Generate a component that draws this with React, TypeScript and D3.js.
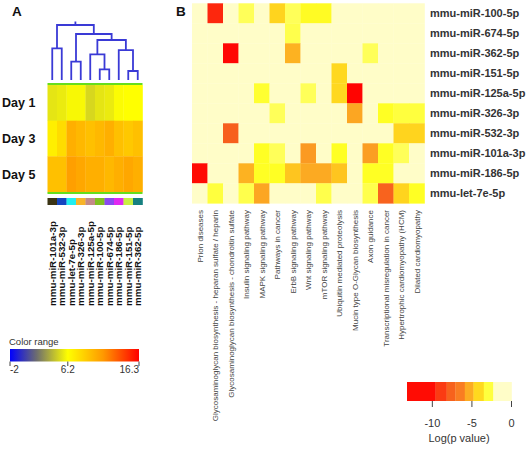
import React from "react";
import * as d3 from "d3";

// ---------- Panel A data ----------
const daysA = ["Day 1", "Day 3", "Day 5"];
const mirnasA = [
  "mmu-miR-101a-3p", "mmu-miR-532-3p", "mmu-let-7e-5p", "mmu-miR-326-3p", "mmu-miR-125a-5p",
  "mmu-miR-100-5p", "mmu-miR-674-5p", "mmu-miR-186-5p", "mmu-miR-151-5p", "mmu-miR-362-5p",
];
const day1Values = [5.4, 5.6, 6.0, 6.0, 5.0, 5.4, 5.6, 6.1, 6.2, 6.2];
const day3Values = [7.0, 7.9, 10.1, 9.7, 9.3, 9.7, 10.1, 9.3, 8.9, 9.3];
const day5Values = [9.3, 9.3, 10.9, 10.5, 10.1, 10.1, 9.7, 10.1, 10.5, 10.1];
const groupColorsA = ["#3b3414", "#1545c0", "#22eef0", "#f8b428", "#c48a88", "#80c020", "#8a48f0", "#e028f0", "#c8f040", "#168080"];
const colorRangeTicks = [-2, 6.2, 16.3];
// dendrogram merges: [left node, right node, height]; leaves 0..9, merged nodes 10..
const dendroMerges: [number, number, number][] = [
  [0, 1, 0.576],
  [2, 3, 0.333],
  [5, 6, 0.195],
  [4, 12, 0.467],
  [8, 9, 0.164],
  [7, 14, 0.545],
  [13, 15, 0.727],
  [11, 16, 0.836],
  [10, 17, 1.0],
];

// ---------- Panel B data ----------
const pathwaysB = [
  "Prion diseases",
  "Glycosaminoglycan biosynthesis - heparan sulfate / heparin",
  "Glycosaminoglycan biosynthesis - chondroitin sulfate",
  "Insulin signaling pathway",
  "MAPK signaling pathway",
  "Pathways in cancer",
  "ErbB signaling pathway",
  "Wnt signaling pathway",
  "mTOR signaling pathway",
  "Ubiquitin mediated proteolysis",
  "Mucin type O-Glycan biosynthesis",
  "Axon guidance",
  "Transcriptional misregulation in cancer",
  "Hypertrophic cardiomyopathy (HCM)",
  "Dilated cardiomyopathy",
];
const mirnasB = [
  "mmu-miR-100-5p", "mmu-miR-674-5p", "mmu-miR-362-5p", "mmu-miR-151-5p", "mmu-miR-125a-5p",
  "mmu-miR-326-3p", "mmu-miR-532-3p", "mmu-miR-101a-3p", "mmu-miR-186-5p", "mmu-let-7e-5p",
];
const logPValues: number[][] = [
  [0, -9.5, 0, -2.7, 0, -4.3, -2.7, -3.2, -3.2, 0, 0, 0, 0, 0, 0],
  [0, 0, 0, 0, 0, 0, -2.8, 0, 0, 0, 0, 0, 0, 0, 0],
  [0, 0, -12, 0, 0, 0, -5.2, 0, 0, 0, 0, -2.7, 0, 0, 0],
  [0, 0, 0, 0, 0, 0, 0, 0, 0, -4.2, 0, 0, 0, 0, 0],
  [0, 0, 0, 0, -3.0, 0, 0, -2.7, 0, -4.2, -12.5, 0, 0, 0, 0],
  [0, 0, 0, 0, 0, -2.7, 0, 0, 0, 0, -5.5, 0, -3.1, -2.9, -2.9],
  [0, 0, -7.8, 0, 0, 0, 0, 0, 0, 0, 0, 0, 0, -4.3, -4.3],
  [0, 0, 0, 0, -3.1, -2.7, 0, -5.8, 0, -3.1, 0, -5.7, -3.1, -2.7, 0],
  [-11.5, 0, 0, -5.2, -3.1, -3.1, -4.7, -5.4, -5.4, -4.7, 0, -3.1, -3.1, 0, 0],
  [0, -2.9, 0, -2.8, -5.5, 0, 0, 0, -2.8, 0, 0, -2.8, -7.6, -4.3, -3.1],
];
const legendBTicks = [-10, -5, 0];
const legendBBins = [-13.2, -9.6, -8.2, -7.1, -5.9, -4.8, -3.5, -2.3, 0];

const FONT = "'Liberation Sans', Arial, Helvetica, sans-serif";

export default function App() {
  // ----- scales A -----
  const colorA = d3
    .scaleLinear<string>()
    .domain([-2, 1.8, 6.2, 11.2, 16.3])
    .range(["#0000ff", "#6e6e6e", "#ffff00", "#ff9900", "#ff0000"])
    .clamp(true);
  const xA = d3.scaleBand<string>().domain(mirnasA).range([47.5, 142.5]);
  const yA = d3.scaleBand<string>().domain(daysA).range([85, 192]);
  const valuesA = [day1Values, day3Values, day5Values];
  const dendY = d3.scaleLinear().domain([0, 1]).range([80, 25]);

  // dendrogram node positions
  const nodeX: number[] = mirnasA.map((m) => (xA(m) as number) + xA.bandwidth() / 2);
  const nodeH: number[] = mirnasA.map(() => 0);
  const dendPaths: string[] = [];
  dendroMerges.forEach(([l, r, h]) => {
    const xl = nodeX[l], xr = nodeX[r];
    const p = d3.path();
    p.moveTo(xl, dendY(nodeH[l]));
    p.lineTo(xl, dendY(h));
    p.lineTo(xr, dendY(h));
    p.lineTo(xr, dendY(nodeH[r]));
    dendPaths.push(p.toString());
    nodeX.push((xl + xr) / 2);
    nodeH.push(h);
  });
  const rootX = nodeX[nodeX.length - 1];
  const rootY = dendY(nodeH[nodeH.length - 1]);

  const legA = d3.scaleLinear().domain([-2, 16.3]).range([10, 139]);
  const gradStops = colorA.domain().map((v) => ({
    off: (legA(v) - 10) / (139 - 10),
    c: colorA(v),
  }));

  // ----- scales B -----
  const colorB = d3
    .scaleLinear<string>()
    .domain([-13, -10, -8, -6.5, -5.5, -4.3, -3.1, -2.6, -2.0, 0])
    .range(["#ff0000", "#ff1608", "#f75a1c", "#f97d22", "#fca622", "#ffd41e", "#ffff24", "#ffff66", "#fffdc8", "#fffdc8"])
    .clamp(true);
  const xB = d3.scaleBand<string>().domain(pathwaysB).range([192, 424.5]);
  const yB = d3.scaleBand<string>().domain(mirnasB).range([3.3, 203.3]);
  const legB = d3.scaleLinear().domain([-13.2, 0]).range([407, 511.5]);

  return (
    <svg
      width={530}
      height={449}
      style={{ position: "absolute", left: 0, top: 0, display: "block", background: "#fff" }}
      fontFamily={FONT}
    >
      <rect x={0} y={0} width={530} height={449} fill="#fff" />
      {/* Panel labels */}
      <text x={12} y={16} fontSize={13.5} fontWeight="bold" fill="#111">A</text>
      <text x={176} y={16} fontSize={13.5} fontWeight="bold" fill="#111">B</text>

      {/* ---------- Panel A ---------- */}
      <g>
        {dendPaths.map((d, i) => (
          <path key={i} d={d} fill="none" stroke="#3a3ad6" strokeWidth={1.8} />
        ))}
        <line x1={rootX} x2={rootX} y1={rootY} y2={rootY - 3.5} stroke="#3a3ad6" strokeWidth={1.8} />
        {valuesA.map((row, ri) =>
          row.map((v, ci) => (
            <rect
              key={`a${ri}-${ci}`}
              x={xA(mirnasA[ci])}
              y={yA(daysA[ri])}
              width={xA.bandwidth() + 0.3}
              height={yA.bandwidth() + 0.3}
              fill={colorA(v)}
            />
          ))
        )}
        <line x1={47.5} x2={142.5} y1={84} y2={84} stroke="#66de1c" strokeWidth={2.2} />
        <line x1={47.5} x2={142.5} y1={193} y2={193} stroke="#66de1c" strokeWidth={2.2} />
        {groupColorsA.map((c, i) => (
          <rect key={`g${i}`} x={xA(mirnasA[i])} y={198} width={xA.bandwidth() + 0.3} height={7} fill={c} />
        ))}
        {daysA.map((d) => (
          <text
            key={d}
            x={2}
            y={(yA(d) as number) + yA.bandwidth() / 2 + 4.5}
            fontSize={12.5}
            fontWeight="bold"
            fill="#111"
          >
            {d}
          </text>
        ))}
        {mirnasA.map((m) => {
          const cx = (xA(m) as number) + xA.bandwidth() / 2 + 3.6;
          return (
            <text
              key={m}
              transform={`translate(${cx},306) rotate(-90)`}
              fontSize={9.8}
              fontWeight="bold"
              fill="#111"
              textAnchor="start"
            >
              {m}
            </text>
          );
        })}
        {/* Color range legend */}
        <text x={9} y={345} fontSize={9.5} fill="#333">Color range</text>
        <defs>
          <linearGradient id="gradA" x1="0" x2="1" y1="0" y2="0">
            {gradStops.map((s, i) => (
              <stop key={i} offset={s.off} stopColor={s.c} />
            ))}
          </linearGradient>
        </defs>
        <rect x={10} y={349} width={129} height={12.5} fill="url(#gradA)" />
        {colorRangeTicks.map((t, i) => (
          <g key={t}>
            <line x1={legA(t)} x2={legA(t)} y1={361.5} y2={366} stroke="#444" strokeWidth={1} />
            <text
              x={legA(t)}
              y={373}
              fontSize={10}
              fill="#333"
              textAnchor={i === 0 ? "start" : i === colorRangeTicks.length - 1 ? "end" : "middle"}
            >
              {t}
            </text>
          </g>
        ))}
      </g>

      {/* ---------- Panel B ---------- */}
      <g>
        {logPValues.map((row, ri) =>
          row.map((v, ci) => (
            <rect
              key={`b${ri}-${ci}`}
              x={xB(pathwaysB[ci])}
              y={yB(mirnasB[ri])}
              width={xB.bandwidth() + 0.3}
              height={yB.bandwidth() + 0.3}
              fill={colorB(v)}
            />
          ))
        )}
        {mirnasB.map((m) => (
          <text
            key={m}
            x={430}
            y={(yB(m) as number) + yB.bandwidth() / 2 + 4}
            fontSize={11}
            fontWeight="bold"
            fill="#333"
          >
            {m}
          </text>
        ))}
        {pathwaysB.map((p) => {
          const cx = (xB(p) as number) + xB.bandwidth() / 2 + 3;
          return (
            <text
              key={p}
              transform={`translate(${cx},210) rotate(-90)`}
              fontSize={8}
              fill="#444"
              textAnchor="end"
            >
              {p}
            </text>
          );
        })}
        {/* legend B */}
        {legendBBins.slice(0, -1).map((b, i) => {
          const e = legendBBins[i + 1];
          return (
            <rect
              key={`lb${i}`}
              x={legB(b)}
              y={382}
              width={legB(e) - legB(b) + 0.3}
              height={19}
              fill={colorB((b + e) / 2)}
            />
          );
        })}
        {legendBTicks.map((t) => (
          <g key={t}>
            <line x1={legB(t)} x2={legB(t)} y1={401} y2={407} stroke="#444" strokeWidth={1} />
            <text x={legB(t)} y={427} fontSize={11} fill="#333" textAnchor="middle">
              {t}
            </text>
          </g>
        ))}
        <text x={459} y={442} fontSize={11} fill="#333" textAnchor="middle">Log(p value)</text>
      </g>
    </svg>
  );
}
